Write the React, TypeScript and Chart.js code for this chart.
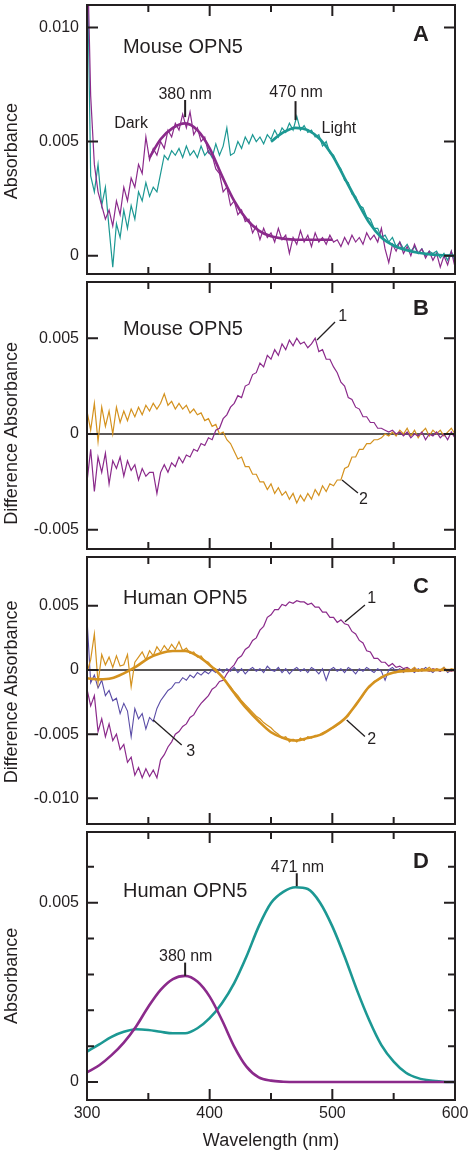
import React, { useEffect, useRef } from "react";
import { Chart, registerables } from "chart.js";

Chart.register(...registerables);

// ---------- page / style constants ----------
const PAGE_W = 472;
const PAGE_H = 1155;
const PLOT_LEFT = 87;
const PLOT_RIGHT = 455;
const PAD = 5;
const FONT = "'Liberation Sans', Arial, Helvetica, sans-serif";
const INK = "#231f20";
const PURPLE = "#8b2a8b";
const TEAL = "#1c9893";
const ORANGE = "#d4921f";
const VIOLET = "#5a4ca6";

// ---------- data (absorbance values in units of 0.0001) ----------
// noisy spectra sampled every 3 nm from 300 nm to 600 nm
const WL_START = 300;
const WL_STEP = 3;

// fitted / smooth curves sampled every 10 nm
const FIT_WL = [300, 310, 320, 330, 340, 350, 360, 370, 380, 390, 400, 410, 420, 430, 440, 450, 460, 470, 480, 490, 500, 510, 520, 530, 540, 550, 560, 570, 580, 590, 600];
const MOUSE_DARK_FIT_WL = [351, 360, 370, 380, 390, 400, 410, 420, 430, 440, 450, 460, 470, 480, 490, 500];
const MOUSE_LIGHT_FIT_WL = [450, 460, 470, 480, 490, 500, 510, 520, 530, 540, 550, 560, 570, 580, 590, 600];

const X_TICK_MARKS = [350, 400, 450, 500, 550];
const X_TICK_LABELS = [300, 400, 500, 600];

// Panel A: mouse OPN5 absorption (dark / light)
const mouseDark = [
  140, 70, 40, 28, 22, 16, 20, 13, 24, 18,
  30, 24, 34, 30, 40, 36, 52, 42, 47, 44,
  50, 47, 55, 52, 58, 55, 62, 56, 63, 53,
  56, 50, 52, 45, 44, 38, 36, 28, 30, 22,
  24, 18, 20, 15, 16, 10, 13, 7, 12, 8,
  10, 6, 12, 7, 9, 1, 8, 5, 11, 6,
  9, 4, 10, 6, 8, 5, 9, 6, 7, 4,
  8, 5, 9, 6, 8, 5, 10, 7, 9, 6,
  12, 3, -3, 5, 2, 6, 1, 4, 0, 5,
  1, 3, -1, 2, -2, 1, -5, 0, -4, 2,
  -5,
];
const mouseLight = [
  140, 35, 28, 40, 22, 30, 12, -5, 14, 8,
  20, 12, 22, 16, 28, 24, 32, 26, 30, 28,
  36, 44, 42, 46, 44, 47, 43, 48, 44, 46,
  43, 48, 44, 46, 43, 49, 44, 48, 56, 44,
  45, 50, 47, 52, 49, 53, 50, 52, 49, 53,
  51, 55, 52, 56, 54, 58, 55, 61, 55, 57,
  54, 55, 52, 53, 48, 50, 45, 44, 40, 38,
  33, 32, 27, 26, 22, 21, 17, 16, 12, 12,
  8, 9, 6, 8, 4, 6, 3, 5, 2, 4,
  1, 3, 0, 2, 1, 2, -1, 1, -2, 2,
  -3,
];
const mouseDarkFit = [43, 51, 56, 58, 55, 47, 35, 24, 16, 11, 8.5, 7.5, 7, 7, 7, 7];
const mouseLightFit = [50, 54, 56, 55, 51, 44, 34, 24, 14.5, 8, 4.5, 2.5, 1.3, 0.6, 0.2, 0];

// Panel B: mouse OPN5 difference spectra
const mouseDiff1 = [
  -25, -8, -30, -12, -20, -10, -26, -14, -18, -12,
  -22, -14, -19, -16, -24, -18, -22, -20, -20, -31,
  -20, -16, -20, -15, -17, -12, -15, -11, -12, -8,
  -9, -5, -6, -2, -3, 2, 3, 8, 10, 14,
  16, 20, 19, 25, 26, 31, 32, 37, 35, 41,
  39, 44, 41, 47, 44, 49, 46, 50, 47, 48,
  45, 47, 50, 43, 44, 39, 39, 35, 32, 27,
  25, 19, 18, 14, 13, 9, 9, 6, 6, 3,
  3, 2, 1, 2, 0, 1, -1, 1, -2, 0,
  -1, 1, -3, 0, -1, 1, -2, 0, -3, 1,
  -2,
];
const mouseDiff2 = [
  12, 2, 16, -4, 14, 4, 12, 0, 14, 6,
  12, 7, 13, 9, 14, 10, 15, 12, 16, 13,
  16, 21, 15, 17, 13, 16, 13, 15, 11, 13,
  10, 11, 7, 8, 4, 5, 0, 1, -3, -5,
  -9, -13, -12, -17, -17, -21, -21, -25, -25, -29,
  -26, -31, -28, -32, -30, -34, -31, -36, -32, -35,
  -31, -34, -29, -32, -27, -30, -26, -27, -24, -24,
  -18, -17, -12, -12, -8, -8, -5, -5, -3, -3,
  -2, 0, -1, 1, -1, 2, 0, 3, -1, 2,
  -2, 1, 3, -1, 2, 0, 2, -1, 1, 3,
  0,
];

// Panel C: human OPN5 difference spectra
const humanDiff1 = [
  -15, -28, -20, -48, -38, -52, -42, -55, -50, -62,
  -58, -72, -68, -82, -76, -84, -77, -83, -78, -84,
  -70, -66, -60, -56, -50, -48, -44, -42, -37, -35,
  -30, -26, -23, -20, -15, -13, -9, -8, -3, 1,
  4, 9, 11, 16, 18, 23, 25, 31, 34, 41,
  43, 47, 47, 51, 50, 53, 52, 54, 53, 53,
  51, 52, 49, 49, 45, 45, 41, 41, 37, 39,
  36, 35, 30, 28, 23, 21, 15, 14, 9, 9,
  6, 6, 3, 5, 2, 3, 1, 2, 0, 1,
  -1, 1, 0, -1, 1, 0, -1, 1, 0, -1,
  0,
];
const humanDiff2 = [
  -2, 8, 28, -10, 12, 4, 10, 2, 11, 3,
  4, 12, -13, 6, 10, 14, 8, 15, 11, 18,
  14, 19, 15, 20, 16, 22, 15, 17, 13, 14,
  10, 11, 7, 6, 2, 1, -3, -6, -10, -13,
  -17, -20, -24, -27, -30, -33, -36, -38, -41, -43,
  -45, -48, -50, -53, -52, -56, -54, -56, -53, -55,
  -52, -53, -51, -51, -49, -48, -46, -45, -43, -41,
  -38, -36, -31, -28, -23, -20, -15, -13, -9, -8,
  -6, -4, -3, -2, -2, 0, -1, 1, 0, 2,
  -1, 1, 0, 2, -1, 1, 0, 2, -1, 1,
  0,
];
const humanDiff3 = [
  40, -10, -4, -14, -8, -20, -16, -24, -22, -34,
  -26, -32, -52, -30, -38, -34, -46, -37, -40, -30,
  -24, -20, -16, -14, -10, -10, -6, -8, -4, -6,
  -2, -4, -1, -3, 0, -2, 1, -2, 1, -1,
  2, -2, 1, -3, 0, 2, -1, 1, -2, 3,
  0, -1, 2, -2, 1, -3, 0, 2, -1, 1,
  -2, 2, 0, -3, 1, -8, 0, 2, -1, 1,
  -2, 2, 0, -3, 1, -1, 2, 0, -2, 1,
  -1, -8, 0, 2, -1, 1, -2, 1, 0, -2,
  1, -1, 2, 0, -2, 1, -1, 2, -2, 0,
  -1,
];
const humanDiff2Fit = [-6.5, -7.3, -6.5, -2.6, 2.6, 9.1, 13, 14.8, 14.8, 10.9, 3.9, -5.2, -18, -30, -40, -48.5, -53, -55, -53, -50.6, -45, -38, -26, -13, -5.7, -2, -0.8, -0.3, -0.1, 0, 0];

// Panel D: human OPN5 calculated spectra
const humanLight = [8.5, 10.5, 12.6, 14, 14.7, 14.5, 14, 13.6, 13.6, 15, 17.8, 22, 27.6, 35, 43.4, 49.9, 53, 54.3, 53.8, 50, 43.4, 35, 25.7, 17.3, 10.3, 5.7, 2.6, 1.1, 0.4, 0.1, 0];
const humanDark = [2.7, 4.7, 7.5, 11, 15.5, 21, 25.7, 28.7, 29.6, 28, 23.8, 17.3, 9.9, 4.3, 1.3, 0.4, 0.1, 0, 0, 0, 0, 0, 0, 0, 0, 0, 0, 0, 0, 0, 0];

// ---------- helpers ----------
const sampled = (vals: number[]) => vals.map((v, i) => ({ x: WL_START + i * WL_STEP, y: v }));
const paired = (wl: number[], vals: number[]) => vals.map((v, i) => ({ x: wl[i], y: v }));

const noisyLine = (vals: number[], color: string, order: number, width = 1.2) => ({
  data: sampled(vals),
  borderColor: color,
  borderWidth: width,
  pointRadius: 0,
  tension: 0,
  fill: false,
  order,
});
const smoothLine = (wl: number[], vals: number[], color: string, order: number, width = 2.7) => ({
  data: paired(wl, vals),
  borderColor: color,
  borderWidth: width,
  pointRadius: 0,
  cubicInterpolationMode: "monotone",
  fill: false,
  order,
});

const fmtY = (v: number) => (Math.abs(v) < 1e-9 ? "0" : (v / 10000).toFixed(3));

type TextAnn = { x: number; y: number; text: string; size: number; bold?: boolean; align?: CanvasTextAlign };
type LineAnn = { x1: number; y1: number; x2: number; y2: number; w?: number };

type Panel = {
  key: string;
  top: number;
  bottom: number;
  yMin: number;
  yMax: number;
  yTicks: number[];
  yLabels: number[];
  yTitle: string;
  yTitleAt: number;
  zeroLine: boolean;
  xAxis: boolean;
  datasets: any[];
  texts: TextAnn[];
  lines: LineAnn[];
};

const PANELS: Panel[] = [
  {
    key: "A",
    top: 5,
    bottom: 274,
    yMin: -8,
    yMax: 109.8,
    yTicks: [0, 50, 100],
    yLabels: [0, 50, 100],
    yTitle: "Absorbance",
    yTitleAt: 45.8,
    zeroLine: false,
    xAxis: false,
    datasets: [
      smoothLine(MOUSE_DARK_FIT_WL, mouseDarkFit, PURPLE, 0),
      smoothLine(MOUSE_LIGHT_FIT_WL, mouseLightFit, TEAL, 0),
      noisyLine(mouseDark, PURPLE, 1),
      noisyLine(mouseLight, TEAL, 2),
    ],
    texts: [
      { x: 329.3, y: 91.4, text: "Mouse OPN5", size: 20, align: "left" },
      { x: 380, y: 70.6, text: "380 nm", size: 16 },
      { x: 470.4, y: 71.4, text: "470 nm", size: 16 },
      { x: 335.9, y: 57.7, text: "Dark", size: 16 },
      { x: 505.4, y: 55.5, text: "Light", size: 16 },
      { x: 572.3, y: 96.6, text: "A", size: 22, bold: true },
    ],
    lines: [
      { x1: 380, y1: 68.2, x2: 380, y2: 60.7, w: 2 },
      { x1: 470, y1: 67.7, x2: 470, y2: 59.4, w: 2 },
    ],
  },
  {
    key: "B",
    top: 282,
    bottom: 549,
    yMin: -60,
    yMax: 79.3,
    yTicks: [-50, 0, 50],
    yLabels: [-50, 0, 50],
    yTitle: "Difference Absorbance",
    yTitleAt: 0.3,
    zeroLine: true,
    xAxis: false,
    datasets: [noisyLine(mouseDiff1, PURPLE, 1), noisyLine(mouseDiff2, ORANGE, 2)],
    texts: [
      { x: 329.3, y: 54.6, text: "Mouse OPN5", size: 20, align: "left" },
      { x: 572.3, y: 65, text: "B", size: 22, bold: true },
      { x: 508.5, y: 61.2, text: "1", size: 16 },
      { x: 525.3, y: -34.4, text: "2", size: 16 },
    ],
    lines: [
      { x1: 487.5, y1: 49, x2: 502.2, y2: 58.4 },
      { x1: 507.9, y1: -24, x2: 520.9, y2: -30.8 },
    ],
  },
  {
    key: "C",
    top: 557,
    bottom: 824,
    yMin: -120,
    yMax: 88,
    yTicks: [-100, -50, 0, 50],
    yLabels: [-100, -50, 0, 50],
    yTitle: "Difference Absorbance",
    yTitleAt: -17,
    zeroLine: true,
    xAxis: false,
    datasets: [
      smoothLine(FIT_WL, humanDiff2Fit, ORANGE, 0, 2.6),
      noisyLine(humanDiff2, ORANGE, 1),
      noisyLine(humanDiff1, PURPLE, 2),
      noisyLine(humanDiff3, VIOLET, 3, 1.1),
    ],
    texts: [
      { x: 329.3, y: 55.8, text: "Human OPN5", size: 20, align: "left" },
      { x: 572.3, y: 64.9, text: "C", size: 22, bold: true },
      { x: 532.1, y: 55.8, text: "1", size: 16 },
      { x: 532.1, y: -54.5, text: "2", size: 16 },
      { x: 384.5, y: -63.6, text: "3", size: 16 },
    ],
    lines: [
      { x1: 510.3, y1: 37.6, x2: 526.6, y2: 50.6 },
      { x1: 511.7, y1: -38.9, x2: 526.6, y2: -51.9 },
      { x1: 354, y1: -38.9, x2: 377.2, y2: -58.4 },
    ],
  },
  {
    key: "D",
    top: 832,
    bottom: 1100,
    yMin: -5,
    yMax: 69.7,
    yTicks: [0, 10, 20, 30, 40, 50, 60],
    yLabels: [0, 50],
    yTitle: "Absorbance",
    yTitleAt: 29.6,
    zeroLine: false,
    xAxis: true,
    datasets: [
      smoothLine(FIT_WL, humanDark, PURPLE, 0, 2.6),
      smoothLine(FIT_WL, humanLight, TEAL, 1, 2.6),
    ],
    texts: [
      { x: 329.3, y: 53.1, text: "Human OPN5", size: 20, align: "left" },
      { x: 572.3, y: 61.4, text: "D", size: 22, bold: true },
      { x: 471.6, y: 59.8, text: "471 nm", size: 16 },
      { x: 380.5, y: 35, text: "380 nm", size: 16 },
    ],
    lines: [
      { x1: 471, y1: 58.2, x2: 471, y2: 54.6, w: 2 },
      { x1: 380, y1: 33.3, x2: 380, y2: 29.6, w: 2 },
    ],
  },
];

function framePlugin(p: Panel) {
  return {
    id: "frame" + p.key,
    beforeDatasetsDraw(chart: any) {
      if (!p.zeroLine) return;
      const { ctx, chartArea: a, scales } = chart;
      const py = scales.y.getPixelForValue(0);
      ctx.save();
      ctx.strokeStyle = INK;
      ctx.lineWidth = 1.6;
      ctx.beginPath();
      ctx.moveTo(a.left, py);
      ctx.lineTo(a.right, py);
      ctx.stroke();
      ctx.restore();
    },
    afterDatasetsDraw(chart: any) {
      const { ctx, chartArea: a, scales } = chart;
      const x = scales.x;
      const y = scales.y;
      ctx.save();
      // frame
      ctx.strokeStyle = INK;
      ctx.lineWidth = 2;
      ctx.strokeRect(a.left, a.top, a.right - a.left, a.bottom - a.top);
      // inward ticks
      ctx.beginPath();
      for (const v of X_TICK_MARKS) {
        const px = x.getPixelForValue(v);
        const len = v % 100 === 0 ? 11 : 7;
        ctx.moveTo(px, a.top);
        ctx.lineTo(px, a.top + len);
        ctx.moveTo(px, a.bottom);
        ctx.lineTo(px, a.bottom - len);
      }
      for (const v of p.yTicks) {
        const py = y.getPixelForValue(v);
        const len = p.yLabels.includes(v) ? 11 : 7;
        ctx.moveTo(a.left, py);
        ctx.lineTo(a.left + len, py);
        ctx.moveTo(a.right, py);
        ctx.lineTo(a.right - len, py);
      }
      ctx.stroke();
      // annotation lines
      for (const l of p.lines) {
        ctx.lineWidth = l.w ?? 1.3;
        ctx.beginPath();
        ctx.moveTo(x.getPixelForValue(l.x1), y.getPixelForValue(l.y1));
        ctx.lineTo(x.getPixelForValue(l.x2), y.getPixelForValue(l.y2));
        ctx.stroke();
      }
      // annotation texts
      ctx.fillStyle = INK;
      ctx.textBaseline = "middle";
      for (const t of p.texts) {
        ctx.font = `${t.bold ? "bold " : ""}${t.size}px ${FONT}`;
        ctx.textAlign = t.align ?? "center";
        ctx.fillText(t.text, x.getPixelForValue(t.x), y.getPixelForValue(t.y));
      }
      // y axis title
      ctx.save();
      ctx.translate(12, y.getPixelForValue(p.yTitleAt));
      ctx.rotate(-Math.PI / 2);
      ctx.font = `18px ${FONT}`;
      ctx.textAlign = "center";
      ctx.fillText(p.yTitle, 0, 0);
      ctx.restore();
      ctx.restore();
    },
  };
}

function PanelChart({ p }: { p: Panel }) {
  const ref = useRef<HTMLCanvasElement | null>(null);
  const canvasTop = p.top - PAD;
  const canvasH = p.xAxis ? PAGE_H - canvasTop : p.bottom - p.top + 2 * PAD;

  useEffect(() => {
    if (!ref.current) return;
    const chart = new Chart(ref.current, {
      type: "line",
      data: { datasets: p.datasets },
      options: {
        responsive: false,
        maintainAspectRatio: false,
        animation: false,
        devicePixelRatio: 1,
        events: [],
        layout: { padding: { top: PAD, bottom: p.xAxis ? 0 : PAD, left: 0, right: PAGE_W - PLOT_RIGHT } },
        plugins: { legend: { display: false }, tooltip: { enabled: false }, title: { display: false } },
        scales: {
          x: {
            type: "linear",
            min: 300,
            max: 600,
            display: p.xAxis,
            grid: { display: false, drawTicks: false },
            border: { display: false },
            afterBuildTicks: (s: any) => {
              s.ticks = X_TICK_LABELS.map((v) => ({ value: v }));
            },
            ticks: {
              autoSkip: false,
              maxRotation: 0,
              padding: 4,
              color: INK,
              font: { family: FONT, size: 16 },
              callback: (v: any) => String(v),
            },
            title: {
              display: p.xAxis,
              text: "Wavelength (nm)",
              color: INK,
              font: { family: FONT, size: 18 },
              padding: { top: 0, bottom: 3 },
            },
            afterFit: (s: any) => {
              if (p.xAxis) s.height = PAGE_H - p.bottom;
              s.paddingLeft = 0;
              s.paddingRight = 0;
            },
          },
          y: {
            type: "linear",
            position: "left",
            min: p.yMin,
            max: p.yMax,
            grid: { display: false, drawTicks: false },
            border: { display: false },
            afterBuildTicks: (s: any) => {
              s.ticks = p.yTicks.map((v) => ({ value: v }));
            },
            ticks: {
              autoSkip: false,
              padding: 8,
              color: INK,
              font: { family: FONT, size: 16 },
              callback: (v: any) => (p.yLabels.includes(v) ? fmtY(v) : ""),
            },
            afterFit: (s: any) => {
              s.width = PLOT_LEFT;
              s.paddingTop = 0;
              s.paddingBottom = 0;
            },
          },
        },
      } as any,
      plugins: [framePlugin(p)],
    });
    return () => chart.destroy();
  }, []);

  return (
    <canvas
      ref={ref}
      width={PAGE_W}
      height={canvasH}
      style={{ position: "absolute", left: 0, top: canvasTop, width: PAGE_W, height: canvasH }}
    />
  );
}

export default function App() {
  return (
    <div style={{ position: "absolute", left: 0, top: 0, width: PAGE_W, height: PAGE_H, background: "#ffffff", overflow: "hidden" }}>
      {PANELS.map((p) => (
        <PanelChart key={p.key} p={p} />
      ))}
    </div>
  );
}
